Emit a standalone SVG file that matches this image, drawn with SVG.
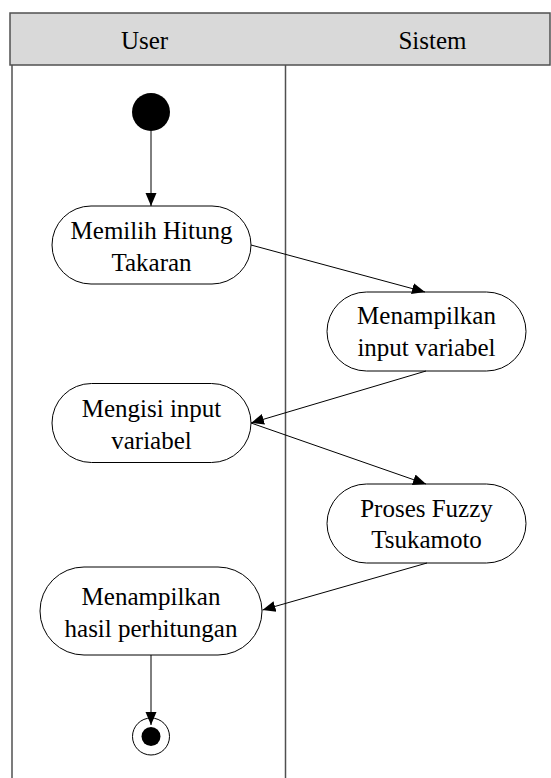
<svg xmlns="http://www.w3.org/2000/svg" width="551" height="778" viewBox="0 0 551 778">
  <style>
    .lane { stroke: #505050; stroke-width: 1.5; fill: none; }
    .head { fill: #d9d9d9; stroke: #505050; stroke-width: 1.5; }
    .act { fill: #ffffff; stroke: #000000; stroke-width: 1; }
    .lbl { font-family: "Liberation Serif", "Times New Roman", serif; font-size: 25px; fill: #000000; text-anchor: middle; }
    .flow { stroke: #000000; stroke-width: 1; fill: none; marker-end: url(#arrow); }
  </style>
  <defs>
    <marker id="arrow" markerUnits="userSpaceOnUse" markerWidth="14" markerHeight="14" viewBox="0 0 14 14" refX="13" refY="7" orient="auto">
      <path d="M0,1.5 L13,7 L0,12.5 Z" fill="#000000"/>
    </marker>
  </defs>

  <!-- swimlanes -->
  <g id="lanes">
    <rect class="head" x="10" y="13" width="540" height="52"/>
    <line class="lane" x1="12" y1="65" x2="12" y2="778"/>
    <line class="lane" x1="285.5" y1="65" x2="285.5" y2="778"/>
    <text class="lbl" x="144.5" y="48.5">User</text>
    <text class="lbl" x="432.5" y="48.5">Sistem</text>
  </g>

  <!-- start -->
  <g id="start">
    <circle cx="151" cy="112" r="19" fill="#000000"/>
  </g>

  <g id="memilih">
    <rect class="act" x="52" y="206" width="199" height="78" rx="39" ry="39"/>
    <text class="lbl" x="151.5" y="239">Memilih Hitung</text>
    <text class="lbl" x="151.5" y="271">Takaran</text>
  </g>

  <g id="tampil-input">
    <rect class="act" x="327" y="292" width="199" height="79" rx="39.5" ry="39.5"/>
    <text class="lbl" x="426.5" y="324">Menampilkan</text>
    <text class="lbl" x="426.5" y="356">input variabel</text>
  </g>

  <g id="mengisi">
    <rect class="act" x="52" y="383.5" width="199" height="79" rx="39.5" ry="39.5"/>
    <text class="lbl" x="151.5" y="416.5">Mengisi input</text>
    <text class="lbl" x="151.5" y="448.5">variabel</text>
  </g>

  <g id="fuzzy">
    <rect class="act" x="327" y="484" width="199" height="79" rx="39.5" ry="39.5"/>
    <text class="lbl" x="426.5" y="517">Proses Fuzzy</text>
    <text class="lbl" x="426.5" y="548">Tsukamoto</text>
  </g>

  <g id="hasil">
    <rect class="act" x="40" y="567" width="222" height="88" rx="44" ry="44"/>
    <text class="lbl" x="151" y="605">Menampilkan</text>
    <text class="lbl" x="151" y="637">hasil perhitungan</text>
  </g>

  <!-- end -->
  <g id="end">
    <circle cx="151" cy="736.5" r="18.5" fill="#ffffff" stroke="#000000" stroke-width="1"/>
    <circle cx="151" cy="736.5" r="9.5" fill="#000000"/>
  </g>

  <!-- connectors -->
  <g id="connectors">
    <line class="flow" x1="151" y1="131" x2="151" y2="206" stroke="#404040"/>
    <line class="flow" x1="251" y1="245" x2="425" y2="292"/>
    <line class="flow" x1="426" y1="371" x2="251" y2="423"/>
    <line class="flow" x1="251" y1="423" x2="426" y2="484"/>
    <line class="flow" x1="427" y1="563" x2="262.5" y2="610"/>
    <line class="flow" x1="151" y1="655" x2="151" y2="725" stroke="#404040"/>
  </g>
</svg>
